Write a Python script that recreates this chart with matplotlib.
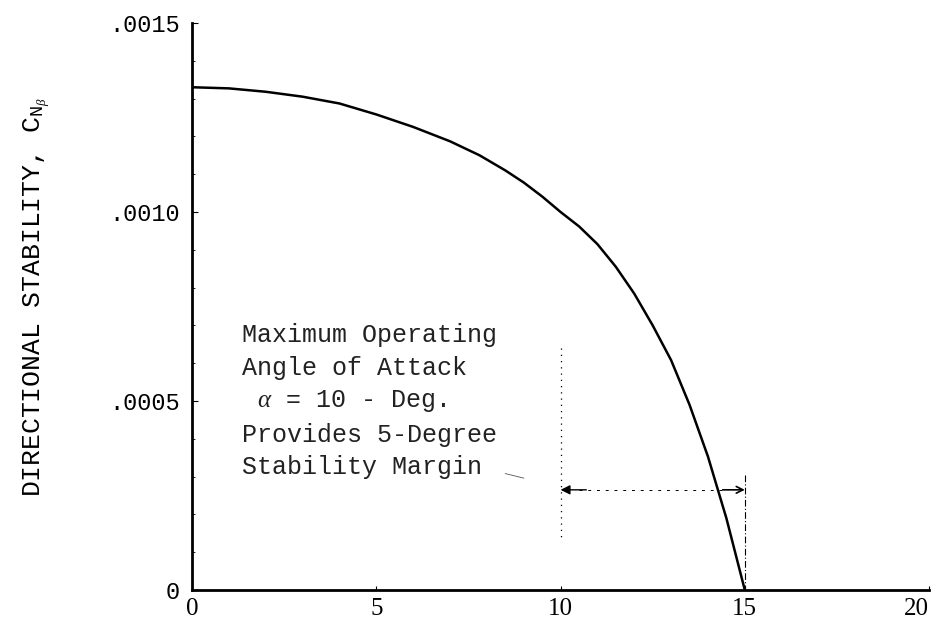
import matplotlib
matplotlib.use("Agg")
import matplotlib.pyplot as plt
from matplotlib.ticker import MultipleLocator, FixedLocator

plt.rcParams['font.family'] = ['Liberation Mono', 'DejaVu Sans']
plt.rcParams['mathtext.fontset'] = 'custom'
plt.rcParams['mathtext.rm'] = 'Liberation Mono'
plt.rcParams['mathtext.it'] = 'Liberation Serif:italic'

# angle of attack (deg) vs directional stability C_N_beta
alpha = [0, 1, 2, 3, 4, 5, 6, 7, 7.8, 8.5, 9, 9.5, 10, 10.5, 11, 11.5,
         12, 12.5, 13, 13.5, 14, 14.5, 15]
cn_beta = [0.00133, 0.001327, 0.001318, 0.001305, 0.001287, 0.001258,
           0.001225, 0.001187, 0.00115, 0.00111, 0.001078, 0.001041,
           0.0010, 0.000962, 0.000915, 0.000855, 0.000784, 0.0007,
           0.000608, 0.00049, 0.000353, 0.00019, 0.0]

x_ticks = [0, 5, 10, 15, 20]
y_ticks = [0, 0.0005, 0.0010, 0.0015]
y_tick_labels = ["0", ".0005", ".0010", ".0015"]

alpha_max = 10      # maximum operating angle of attack
alpha_zero = 15     # where stability vanishes
margin_level = 0.000265

note = ("Maximum Operating\n"
        "Angle of Attack\n"
        r" $\alpha$ = 10 - Deg." "\n"
        "Provides 5-Degree\n"
        "Stability Margin")

fig = plt.figure(figsize=(9.37, 6.26), dpi=100)
ax = fig.add_axes([0.205, 0.0575, 0.7865, 0.9058])

ax.plot(alpha, cn_beta, color='black', lw=1.8, solid_capstyle='round',
        solid_joinstyle='round')

# margin markers
ax.plot([alpha_max, alpha_max], [0.00064, 0.00013], color='black', lw=0.9,
        ls=(0, (1, 4)))
ax.plot([alpha_zero, alpha_zero], [0.000305, 0.0], color='black', lw=0.8,
        ls=(0, (6, 2, 1, 2)))
ax.plot([alpha_max + 0.5, alpha_zero - 0.5], [margin_level, margin_level],
        color='black', lw=0.7, ls=(0, (3, 6)))
ax.annotate("", xy=(alpha_max, margin_level), xytext=(alpha_max + 0.7, margin_level),
            arrowprops=dict(arrowstyle='-|>', color='black', lw=1.0,
                            mutation_scale=14, shrinkA=0, shrinkB=0))
ax.annotate("", xy=(alpha_zero, margin_level), xytext=(alpha_zero - 0.6, margin_level),
            arrowprops=dict(arrowstyle='->', color='black', lw=1.2,
                            mutation_scale=12, shrinkA=0, shrinkB=0))

ax.text(1.36, 0.000499, note, fontsize=18, va='center', ha='left',
        linespacing=1.45, color='#222222')
ax.plot([8.5, 9.0], [0.000308, 0.000296], color='#555555', lw=0.6)

ax.set_xlim(0, 20)
ax.set_ylim(0, 0.0015)
ax.xaxis.set_major_locator(FixedLocator(x_ticks))
ax.yaxis.set_major_locator(FixedLocator(y_ticks))
ax.set_yticklabels(y_tick_labels)
ax.yaxis.set_minor_locator(MultipleLocator(0.0001))
ax.tick_params(axis='x', which='major', direction='in', length=3, width=0.8,
               labelsize=18, pad=6)
ax.tick_params(axis='y', which='major', direction='in', length=4, width=0.8,
               labelsize=17, pad=9)
ax.tick_params(axis='y', which='minor', direction='in', length=2, width=0.6)
xlabels = ax.get_xticklabels()
for lbl in xlabels:
    lbl.set_fontfamily('Liberation Serif')
xlabels[-1].set_horizontalalignment('right')

ax.spines['top'].set_visible(False)
ax.spines['right'].set_visible(False)
ax.spines['left'].set_linewidth(2)
ax.spines['bottom'].set_linewidth(2)

ax.set_ylabel(r"DIRECTIONAL STABILITY, C$_{\mathrm{N}_{\beta}}$", fontsize=19)
ax.yaxis.set_label_coords(-0.19, 0.517)

fig.savefig("out.png", dpi=100)
